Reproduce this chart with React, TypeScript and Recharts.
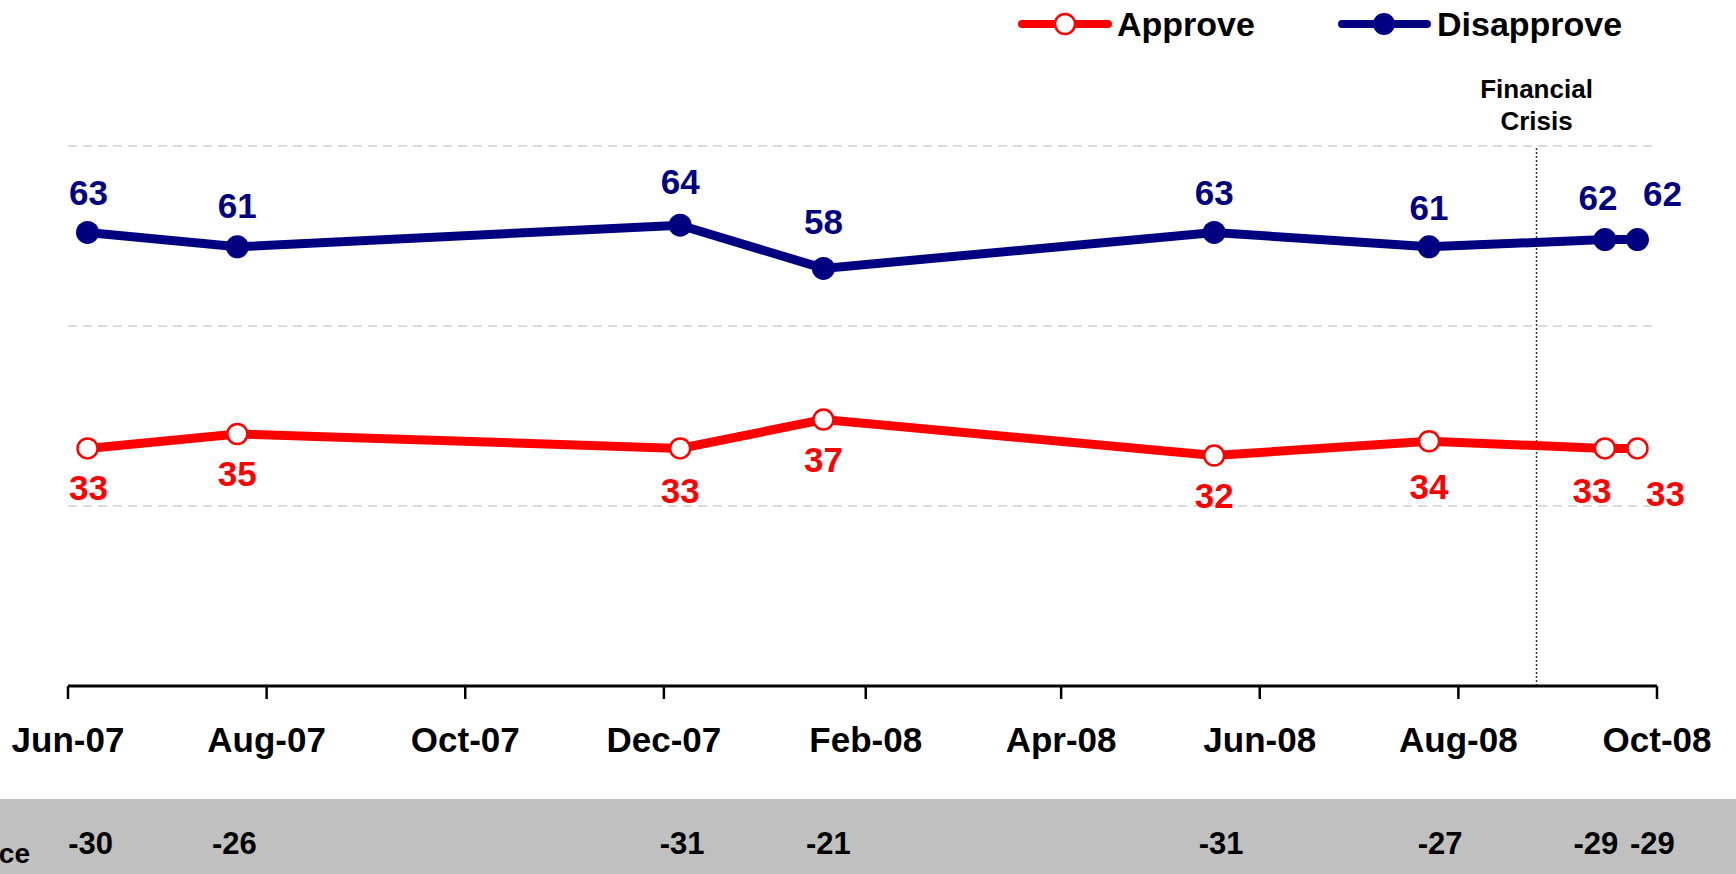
import {
  CartesianGrid,
  LabelList,
  Line,
  LineChart,
  ReferenceLine,
  XAxis,
  YAxis,
} from "recharts";

const FONT = '"Liberation Sans", Arial, Helvetica, sans-serif';
const RED = "#FF0000";
const NAVY = "#000080";

// survey dates and results
const surveyDates = [
  "2007-06-07",
  "2007-07-23",
  "2007-12-06",
  "2008-01-19",
  "2008-05-18",
  "2008-07-23",
  "2008-09-15",
  "2008-09-25",
];
const approve = [33, 35, 33, 37, 32, 34, 33, 33];
const disapprove = [63, 61, 64, 58, 63, 61, 62, 62];
const gap = [-30, -26, -31, -21, -31, -27, -29, -29];

const tickDates = [
  "2007-06-01",
  "2007-08-01",
  "2007-10-01",
  "2007-12-01",
  "2008-02-01",
  "2008-04-01",
  "2008-06-01",
  "2008-08-01",
  "2008-10-01",
];
const tickLabels = [
  "Jun-07",
  "Aug-07",
  "Oct-07",
  "Dec-07",
  "Feb-08",
  "Apr-08",
  "Jun-08",
  "Aug-08",
  "Oct-08",
];
const crisisDate = "2008-08-25";

const START = Date.parse(tickDates[0]);
const toDay = (iso: string) => Math.round((Date.parse(iso) - START) / 86400000);

const data = surveyDates.map((d, i) => ({
  day: toDay(d),
  approve: approve[i],
  disapprove: disapprove[i],
  gap: gap[i],
}));
const tickDays = tickDates.map(toDay);
const lastDay = tickDays[tickDays.length - 1];

// label placement tweaks (px), per point
const disAbove = [40, 41, 44, 47, 40, 39, 42, 46];
const disDx = [1, 0, 0, 0, 0, 0, -7, 25];
const appBelow = [39, 39, 42, 40, 40, 45, 42, 45];
const appDx = [1, 0, 0, 0, 0, 0, -13, 28];
const gapDx = [3, -3, 2, 5, 7, 11, -9, 15];

const bold = { fontFamily: FONT, fontWeight: "bold" as const };

function DisLabel(props: any) {
  const { x, y, value, index } = props;
  return (
    <text
      x={x + disDx[index]}
      y={y - disAbove[index] + 12.5}
      textAnchor="middle"
      fill={NAVY}
      fontSize={35}
      {...bold}
    >
      {value}
    </text>
  );
}

function AppLabel(props: any) {
  const { x, y, value, index } = props;
  return (
    <text
      x={x + appDx[index]}
      y={y + appBelow[index] + 12.5}
      textAnchor="middle"
      fill={RED}
      fontSize={35}
      {...bold}
    >
      {value}
    </text>
  );
}

function GapLabel(props: any) {
  const { x, value, index } = props;
  return (
    <text
      x={x + gapDx[index]}
      y={854}
      textAnchor="middle"
      fill="#000"
      fontSize={31}
      {...bold}
    >
      {value}
    </text>
  );
}

function CrisisLabel(props: any) {
  const x = props.viewBox?.x ?? 0;
  return (
    <g>
      <text x={x} y={98} textAnchor="middle" fill="#000" fontSize={26} {...bold}>
        Financial
      </text>
      <text x={x} y={130} textAnchor="middle" fill="#000" fontSize={26} {...bold}>
        Crisis
      </text>
    </g>
  );
}

export default function App() {
  return (
    <div style={{ position: "relative", width: 1736, height: 874 }}>
      <style>{"body{margin:0}"}</style>
      <div
        style={{
          position: "absolute",
          left: 0,
          top: 799,
          width: 1736,
          height: 75,
          background: "#C0C0C0",
        }}
      />
      <LineChart
        width={1736}
        height={874}
        data={data}
        margin={{ top: 146, right: 79, bottom: 128, left: 68 }}
      >
        <CartesianGrid
          vertical={false}
          horizontalValues={[25, 50, 75]}
          stroke="#CFCFCF"
          strokeWidth={1.5}
          strokeDasharray="9 6"
        />
        <XAxis
          dataKey="day"
          type="number"
          domain={[0, lastDay]}
          ticks={tickDays}
          interval={0}
          height={60}
          tickFormatter={(v) => tickLabels[tickDays.indexOf(v)] ?? ""}
          axisLine={{ stroke: "#000", strokeWidth: 3 }}
          tickLine={{ stroke: "#000", strokeWidth: 2.5 }}
          tickSize={13}
          tickMargin={28}
          tick={{ fill: "#000", fontSize: 35, ...bold }}
        />
        <YAxis hide domain={[0, 75]} ticks={[0, 25, 50, 75]} />
        <ReferenceLine
          x={toDay(crisisDate)}
          stroke="#333"
          strokeWidth={1.5}
          strokeDasharray="2 2"
          label={<CrisisLabel />}
        />
        <Line
          type="linear"
          dataKey="disapprove"
          name="Disapprove"
          stroke={NAVY}
          strokeWidth={9}
          dot={{ r: 11.5, fill: NAVY, stroke: NAVY, strokeWidth: 0 }}
          activeDot={false}
          isAnimationActive={false}
        >
          <LabelList dataKey="disapprove" content={<DisLabel />} />
        </Line>
        <Line
          type="linear"
          dataKey="approve"
          name="Approve"
          stroke={RED}
          strokeWidth={9}
          dot={{ r: 10, fill: "#fff", stroke: RED, strokeWidth: 2.5 }}
          activeDot={false}
          isAnimationActive={false}
        >
          <LabelList dataKey="approve" content={<AppLabel />} />
          <LabelList dataKey="gap" content={<GapLabel />} />
        </Line>
      </LineChart>
      <svg
        width={1736}
        height={874}
        style={{ position: "absolute", left: 0, top: 0, pointerEvents: "none" }}
      >
        <line x1={1022} x2={1108} y1={24} y2={24} stroke={RED} strokeWidth={8} strokeLinecap="round" />
        <circle cx={1065} cy={24} r={10} fill="#fff" stroke={RED} strokeWidth={2.5} />
        <text x={1117} y={36} fill="#000" fontSize={34} {...bold}>
          Approve
        </text>
        <line x1={1342} x2={1427} y1={24} y2={24} stroke={NAVY} strokeWidth={8} strokeLinecap="round" />
        <circle cx={1384} cy={24} r={11} fill={NAVY} />
        <text x={1437} y={36} fill="#000" fontSize={34} {...bold}>
          Disapprove
        </text>
        <text x={30} y={863} textAnchor="end" fill="#000" fontSize={28} {...bold}>
          Difference
        </text>
      </svg>
    </div>
  );
}
